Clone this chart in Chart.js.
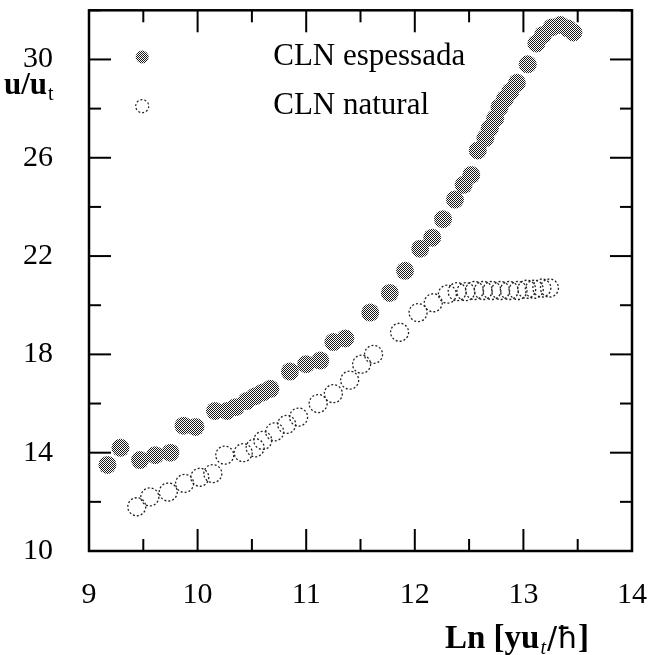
<!DOCTYPE html>
<html>
<head>
<meta charset="utf-8">
<script src="https://cdn.jsdelivr.net/npm/chart.js@4.4.0/dist/chart.umd.min.js"></script>
<style>
  html, body { margin: 0; padding: 0; background: #fff; }
  canvas { display: block; }
</style>
</head>
<body>
<canvas id="chart" width="651" height="655"></canvas>
<script>
// CLN espessada (filled markers)
const thickX = [9.17, 9.29, 9.47, 9.61, 9.75, 9.87, 9.98, 10.16, 10.27, 10.35, 10.45, 10.53, 10.60, 10.67,
  10.85, 11.00, 11.13, 11.25, 11.36, 11.59, 11.77, 11.91, 12.05, 12.16, 12.26, 12.37, 12.45, 12.52,
  12.58, 12.65, 12.69, 12.74, 12.78, 12.83, 12.88, 12.94, 13.04, 13.12, 13.18, 13.26, 13.34, 13.41, 13.46];
const thickY = [13.5, 14.2, 13.7, 13.9, 14.0, 15.1, 15.05, 15.7, 15.7, 15.85, 16.1, 16.3, 16.45, 16.6,
  17.3, 17.6, 17.75, 18.5, 18.65, 19.7, 20.5, 21.4, 22.3, 22.75, 23.5, 24.3, 24.9, 25.3,
  26.3, 26.8, 27.2, 27.6, 28.05, 28.4, 28.7, 29.05, 29.8, 30.65, 31.0, 31.3, 31.4, 31.26, 31.1];

// CLN natural (open markers)
const natX = [9.44, 9.56, 9.73, 9.88, 10.02, 10.14, 10.25, 10.42, 10.53, 10.60, 10.71, 10.82, 10.93,
  11.11, 11.25, 11.40, 11.51, 11.62, 11.86, 12.03, 12.17, 12.30, 12.39, 12.47, 12.55, 12.63, 12.71,
  12.79, 12.87, 12.95, 13.03, 13.10, 13.17, 13.24];
const natY = [11.8, 12.2, 12.4, 12.75, 13.0, 13.15, 13.9, 14.0, 14.2, 14.5, 14.85, 15.15, 15.45,
  16.0, 16.4, 16.95, 17.6, 18.0, 18.9, 19.7, 20.1, 20.45, 20.55, 20.55, 20.6, 20.6, 20.6,
  20.6, 20.6, 20.6, 20.65, 20.65, 20.7, 20.7];

const seriesNames = ["CLN espessada", "CLN natural"];
const xMajor = [9, 10, 11, 12, 13, 14];
const xMinor = [9.5, 10.5, 11.5, 12.5, 13.5];
const yMajor = [10, 14, 18, 22, 26, 30];
const yMinor = [12, 16, 20, 24, 28, 32];

const serif = "'Liberation Serif', 'DejaVu Serif', serif";

function halftone(ctx) {
  const c = document.createElement("canvas");
  c.width = 2; c.height = 2;
  const g = c.getContext("2d");
  g.fillStyle = "#fff"; g.fillRect(0, 0, 2, 2);
  g.fillStyle = "#1a1a1a"; g.fillRect(0, 0, 1, 1); g.fillRect(1, 1, 1, 1);
  return ctx.createPattern(c, "repeat");
}

const canvas = document.getElementById("chart");
const ctx = canvas.getContext("2d");
const fillPat = halftone(ctx);

const toPts = (xs, ys) => xs.map((x, i) => ({ x: x, y: ys[i] }));

// axis boxes get fixed sizes and no extra label padding, so the plot area lands where the reference has it
function fixBox(prop, size) {
  return (s) => {
    s[prop] = size;
    s.paddingTop = 0; s.paddingBottom = 0; s.paddingLeft = 0; s.paddingRight = 0;
  };
}

// frame, inward ticks on all four sides, legend and titles
const decor = {
  id: "decor",
  beforeDatasetDraw(chart, args) {
    if (args.index === 1) {
      chart.ctx.save();
      chart.ctx.setLineDash([2, 2]);
    }
  },
  afterDatasetDraw(chart, args) {
    if (args.index === 1) chart.ctx.restore();
  },
  afterDraw(chart) {
    const c = chart.ctx;
    const a = chart.chartArea;
    const sx = chart.scales.x, sy = chart.scales.y;
    c.save();
    c.strokeStyle = "#000";
    c.lineWidth = 2.5;
    c.strokeRect(a.left, a.top, a.right - a.left, a.bottom - a.top);

    c.lineWidth = 2;
    const tick = (x1, y1, x2, y2) => { c.beginPath(); c.moveTo(x1, y1); c.lineTo(x2, y2); c.stroke(); };
    xMajor.forEach(v => { const p = sx.getPixelForValue(v); tick(p, a.bottom, p, a.bottom - 22); tick(p, a.top, p, a.top + 22); });
    xMinor.forEach(v => { const p = sx.getPixelForValue(v); tick(p, a.bottom, p, a.bottom - 12); tick(p, a.top, p, a.top + 12); });
    yMajor.forEach(v => { const p = sy.getPixelForValue(v); tick(a.left, p, a.left + 22, p); tick(a.right, p, a.right - 22, p); });
    yMinor.forEach(v => { const p = sy.getPixelForValue(v); tick(a.left, p, a.left + 12, p); tick(a.right, p, a.right - 12, p); });

    // legend
    const lx = sx.getPixelForValue(9.49);
    const ly1 = sy.getPixelForValue(30.1), ly2 = sy.getPixelForValue(28.1);
    c.fillStyle = fillPat;
    c.beginPath(); c.arc(lx, ly1, 6.5, 0, Math.PI * 2); c.fill();
    c.setLineDash([2, 2]); c.lineWidth = 1.2; c.strokeStyle = "#222";
    c.beginPath(); c.arc(lx, ly2, 6.5, 0, Math.PI * 2); c.stroke();
    c.setLineDash([]);
    c.fillStyle = "#000";
    c.font = "31px " + serif;
    c.textBaseline = "middle";
    c.textAlign = "left";
    c.fillText(seriesNames[0], lx + 131, ly1);
    c.fillText(seriesNames[1], lx + 131, ly2);

    // y title  u/u_t
    c.textBaseline = "alphabetic";
    c.font = "bold 31px " + serif;
    c.fillText("u/u", 4, 94);
    let w = c.measureText("u/u").width;
    c.font = "20px " + serif;
    c.fillText("t", 4 + w + 1, 100);

    // x title  Ln [yu_t/ħ]
    let x = 445, y = 648;
    c.font = "bold 33px " + serif;
    c.fillText("Ln [yu", x, y);
    x += c.measureText("Ln [yu").width;
    c.font = "italic 20px " + serif;
    c.fillText("t", x + 1, y + 6);
    x += c.measureText("t").width + 2;
    c.font = "30px 'DejaVu Sans', sans-serif";
    c.fillText("/ħ", x, y);
    x += c.measureText("/ħ").width;
    c.font = "bold 33px " + serif;
    c.fillText("]", x, y);
    c.restore();
  }
};

new Chart(canvas, {
  type: "scatter",
  data: {
    datasets: [
      {
        label: seriesNames[0],
        data: toPts(thickX, thickY),
        backgroundColor: fillPat,
        borderWidth: 0,
        pointRadius: 9,
        pointHoverRadius: 9,
      },
      {
        label: seriesNames[1],
        data: toPts(natX, natY),
        backgroundColor: "rgba(0,0,0,0)",
        borderColor: "#222",
        borderWidth: 1.3,
        pointRadius: 9,
        pointHoverRadius: 9,
      },
    ],
  },
  options: {
    responsive: false,
    animation: false,
    devicePixelRatio: 1,
    layout: { padding: { left: 0, right: 19, top: 6, bottom: 0 } },
    plugins: {
      legend: { display: false },
      tooltip: { enabled: false },
    },
    scales: {
      x: {
        type: "linear",
        min: 9,
        max: 14,
        grid: { display: false, drawTicks: false },
        border: { display: false },
        afterBuildTicks: (s) => { s.ticks = xMajor.map(v => ({ value: v })); },
        afterFit: fixBox("height", 104),
        ticks: {
          color: "#000",
          padding: 26,
          maxRotation: 0,
          font: { family: serif, size: 30 },
        },
      },
      y: {
        type: "linear",
        min: 10,
        max: 32,
        grid: { display: false, drawTicks: false },
        border: { display: false },
        afterBuildTicks: (s) => { s.ticks = yMajor.map(v => ({ value: v })); },
        afterFit: fixBox("width", 89),
        ticks: {
          color: "#000",
          padding: 36,
          font: { family: serif, size: 30 },
        },
      },
    },
  },
  plugins: [decor],
});
</script>
</body>
</html>
